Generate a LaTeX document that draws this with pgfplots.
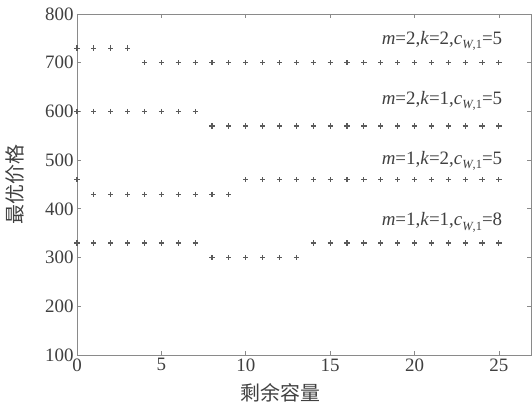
\documentclass[border=0pt]{standalone}
\usepackage{fontspec}
\setmainfont{Liberation Serif}
\newfontfamily\cjk{Noto Sans CJK SC}
\usepackage{pgfplots}
\pgfplotsset{compat=1.18}
\definecolor{mk}{HTML}{5A5A5A}
\definecolor{ax}{HTML}{8A8A8A}
\definecolor{tx}{HTML}{404040}
\pgfplotsset{ms/.style={color=mk, only marks, mark=+, mark size=2.6bp, line width=1.1bp}}
\newcommand{\cw}{\textit{c}\raisebox{-4.5bp}{\fontsize{12.5}{14}\selectfont\textit{W},1}}
\begin{document}
\begin{tikzpicture}
\useasboundingbox (-77bp,-53bp) rectangle (455bp,355bp);
\begin{axis}[
  scale only axis, width=454bp, height=341bp,
  xmin=0, xmax=26.9, ymin=100, ymax=800,
  xtick={0,5,...,25}, ytick={100,200,...,800},
  tick align=inside, major tick length=4bp,
  axis line style={ax, line width=0.8bp},
  tick style={ax, line width=0.8bp},
  tick label style={font=\fontsize{19}{22}\selectfont, text=tx},
  /pgf/number format/assume math mode=true,
  xlabel={剩余容量}, ylabel={最优价格},
  label style={font=\fontsize{20}{24}\selectfont\cjk, text=tx},
  xlabel style={at={(axis description cs:0.449,-0.111)}, anchor=center},
  ylabel style={at={(axis description cs:-0.1366,0.5)}, anchor=center},
  clip=false,
]
\addplot[ms] coordinates {(0,730)(1,730)(2,730)(3,730)(4,700)(5,700)(6,700)(7,700)(8,700)(9,700)(10,700)(11,700)(12,700)(13,700)(14,700)(15,700)(16,700)(17,700)(18,700)(19,700)(20,700)(21,700)(22,700)(23,700)(24,700)(25,700)};
\addplot[ms] coordinates {(0,600)(1,600)(2,600)(3,600)(4,600)(5,600)(6,600)(7,600)(8,570)(9,570)(10,570)(11,570)(12,570)(13,570)(14,570)(15,570)(16,570)(17,570)(18,570)(19,570)(20,570)(21,570)(22,570)(23,570)(24,570)(25,570)};
\addplot[ms] coordinates {(0,460)(1,430)(2,430)(3,430)(4,430)(5,430)(6,430)(7,430)(8,430)(9,430)(10,460)(11,460)(12,460)(13,460)(14,460)(15,460)(16,460)(17,460)(18,460)(19,460)(20,460)(21,460)(22,460)(23,460)(24,460)(25,460)};
\addplot[ms] coordinates {(0,330)(1,330)(2,330)(3,330)(4,330)(5,330)(6,330)(7,330)(8,300)(9,300)(10,300)(11,300)(12,300)(13,300)(14,330)(15,330)(16,330)(17,330)(18,330)(19,330)(20,330)(21,330)(22,330)(23,330)(24,330)(25,330)};
\node[anchor=base east, text=tx, font=\fontsize{19}{22}\selectfont] at (axis cs:25.4,738) {\textit{m}=2,\textit{k}=2,\cw=5};
\node[anchor=base east, text=tx, font=\fontsize{19}{22}\selectfont] at (axis cs:25.4,615) {\textit{m}=2,\textit{k}=1,\cw=5};
\node[anchor=base east, text=tx, font=\fontsize{19}{22}\selectfont] at (axis cs:25.4,492) {\textit{m}=1,\textit{k}=2,\cw=5};
\node[anchor=base east, text=tx, font=\fontsize{19}{22}\selectfont] at (axis cs:25.4,365) {\textit{m}=1,\textit{k}=1,\cw=8};
\end{axis}
\end{tikzpicture}
\end{document}
